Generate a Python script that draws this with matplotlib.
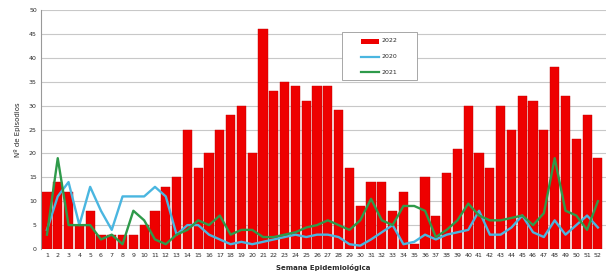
import matplotlib
matplotlib.use("Agg")
import matplotlib.pyplot as plt
from matplotlib.lines import Line2D
from matplotlib.patches import Rectangle

weeks = list(range(1, 53))
s2022 = [12, 14, 12, 5, 8, 3, 3, 3, 3, 5, 8, 13, 15, 25, 17, 20, 25, 28, 30, 20,
         46, 33, 35, 34, 31, 34, 34, 29, 17, 9, 14, 14, 8, 12, 1, 15, 7, 16, 21, 30,
         20, 17, 30, 25, 32, 31, 25, 38, 32, 23, 28, 19]
s2020 = [4, 11, 14, 5, 13, 8, 4, 11, 11, 11, 13, 11, 3, 5, 5, 3, 2, 1, 1.5, 1,
         1.5, 2, 2.5, 3, 2.5, 3, 3, 2.5, 1, 0.7, 2, 3.5, 5, 1, 1.5, 3, 2, 3, 3.5, 4,
         8, 3, 3, 4.5, 7, 3.5, 2.5, 6, 3, 5, 7, 4.5]
s2021 = [3, 19, 5, 5, 5, 2, 3, 1, 8, 6, 2, 1, 3, 4, 6, 5, 7, 3, 4, 4,
         2.5, 2.5, 3, 3.5, 4.5, 5, 6, 5, 4, 6, 10.5, 6, 5, 9, 9, 8, 2.5, 4, 6, 9.5,
         7, 6, 6, 6.5, 7, 5, 7.5, 19, 8, 7, 4, 10]
labels = ["2022", "2020", "2021"]

red = "#ee0000"
blue = "#4ab6e0"
green = "#2e9a4a"
txt = "#2a2a2a"

W, H = 606, 279
fig = plt.figure(figsize=(W / 100, H / 100), dpi=100)
ax = fig.add_axes([41 / W, 1 - 249 / H, (W - 41) / W, 239 / H])

ax.bar(weeks, s2022, width=0.85, color=red, edgecolor="#c00000", linewidth=0.3, zorder=2)
ax.plot(weeks, s2020, color=blue, linewidth=1.7, zorder=3)
ax.plot(weeks, s2021, color=green, linewidth=1.7, zorder=4)

ax.set_xlim(0.45, 52.75)
ax.set_ylim(0, 50)
ax.set_yticks(range(0, 51, 5))
ax.set_xticks(weeks)
ax.tick_params(axis="both", labelsize=4.5, length=0, colors=txt, pad=3)
ax.grid(axis="y", color="#c8c8c8", linewidth=0.8, zorder=0)
ax.set_axisbelow(True)
for s in ["top", "right", "bottom"]:
    ax.spines[s].set_visible(False)
ax.spines["left"].set_color("#999999")
ax.spines["left"].set_linewidth(0.8)

ax.set_ylabel("Nº de Episodios", fontsize=5, color=txt, labelpad=6)
ax.set_xlabel("Semana Epidemiológica", fontsize=5, color=txt, fontweight="bold", labelpad=4)


def fx(x):
    return x / W


def fy(y):
    return 1 - y / H


fig.add_artist(Rectangle((fx(342), fy(80)), fx(417) - fx(342), fy(32) - fy(80),
                         transform=fig.transFigure, facecolor="white",
                         edgecolor="#999999", linewidth=0.6, zorder=10))
rows = [41, 57, 72]
fig.add_artist(Rectangle((fx(361), fy(rows[0] + 2.5)), fx(379) - fx(361),
                         fy(rows[0] - 2.5) - fy(rows[0] + 2.5),
                         transform=fig.transFigure, facecolor=red, edgecolor=red,
                         linewidth=0, zorder=11))
for yy, col in zip(rows[1:], [blue, green]):
    fig.add_artist(Line2D([fx(361), fx(379)], [fy(yy), fy(yy)], transform=fig.transFigure,
                          color=col, linewidth=1.6, zorder=11))
for yy, lab in zip(rows, labels):
    fig.text(fx(381), fy(yy), lab, fontsize=4.5, color=txt, va="center", ha="left", zorder=12)

fig.savefig("out.png", dpi=100)
